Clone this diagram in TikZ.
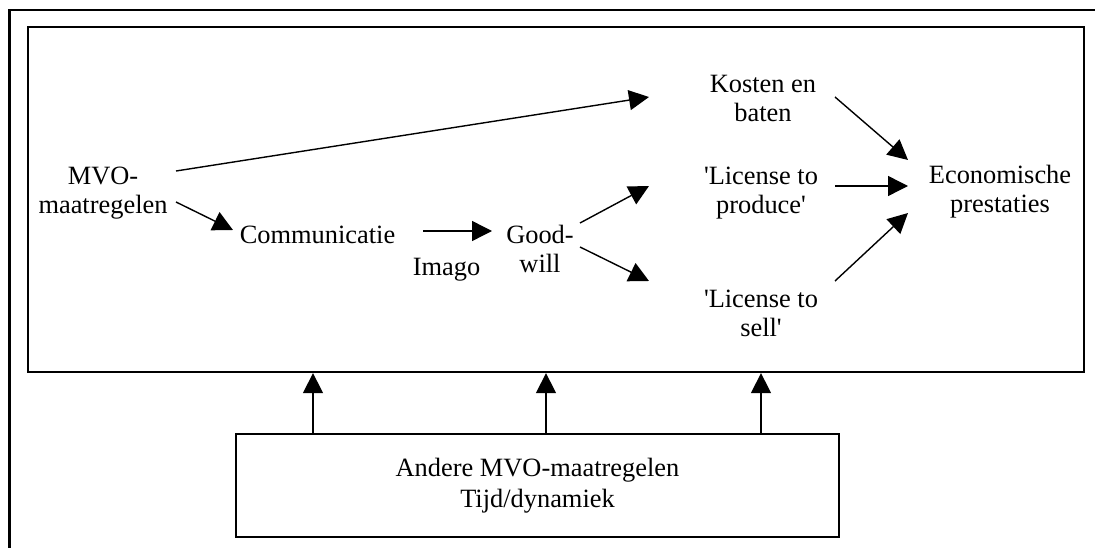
\documentclass[tikz,border=0pt]{standalone}
\usepackage{fontspec}
\setmainfont{Liberation Serif}
\newfontfamily\libserif{Liberation Serif}
\usetikzlibrary{arrows.meta}
\begin{document}
\begin{tikzpicture}[x=1pt,y=-1pt,
  lbl/.style={inner sep=0pt, align=center, font=\libserif\fontsize{26.4}{29}\selectfont},
  arr/.style={line width=1.4pt, -{Triangle[length=20pt,width=20pt]}},
  frame/.style={line width=2.3pt}]
\useasboundingbox (0,0) rectangle (1095,548);
% outer frame (top and left edges only)
\draw[frame] (1095,10) -- (9.5,10) -- (9.5,548);
% main box
\node[frame, draw, minimum width=1056pt, minimum height=345pt, inner sep=0pt] (main) at (556,199.5) {};
% lower box
\node[frame, draw, minimum width=603pt, minimum height=103pt, inner sep=0pt, align=center,
      font=\libserif\fontsize{26.4}{31}\selectfont] (low) at (537.5,485.5)
      {Andere MVO-maatregelen\strut\\Tijd/dynamiek\strut};
% labels
\node[lbl] (mvo)  at (103,193.7)  {MVO-\strut\\maatregelen\strut};
\node[lbl] (kost) at (763,101.2)  {Kosten en\strut\\baten\strut};
\node[lbl] (prod) at (761,193.7)  {'License to\strut\\produce'\strut};
\node[lbl] (sell) at (761,315.7)  {'License to\strut\\sell'\strut};
\node[lbl] (eco)  at (1000,192.7) {Economische\strut\\prestaties\strut};
\node[lbl] (comm) at (317.5,238.2) {Communicatie\strut};
\node[lbl] (imago) at (446.5,269.2) {Imago\strut};
\node[lbl] (good) at (540,252.7)  {Good-\strut\\will\strut};
% arrows
\draw[arr] ([shift={(73,-22.7)}]mvo.center) -- ([shift={(-114,-4.2)}]kost.center);
\draw[arr] ([shift={(73,8.3)}]mvo.center) -- ([shift={(-84.5,-8.2)}]comm.center);
\draw[arr] ([shift={(105.5,-7.2)}]comm.center) -- ([shift={(-48,-21.7)}]good.center);
\draw[arr] ([shift={(40,-29.7)}]good.center) -- ([shift={(-112,-7.7)}]prod.center);
\draw[arr] ([shift={(40,-5.7)}]good.center) -- ([shift={(-112,-34.7)}]sell.center);
\draw[arr] ([shift={(72,-4.2)}]kost.center) -- ([shift={(-92,-32.7)}]eco.center);
\draw[arr] ([shift={(74,-7.7)}]prod.center) -- ([shift={(-92,-6.7)}]eco.center);
\draw[arr] ([shift={(74,-34.7)}]sell.center) -- ([shift={(-92,20.3)}]eco.center);
% vertical arrows
\coordinate (v1) at ([xshift=-224.5pt]low.north);
\coordinate (v2) at ([xshift=8.5pt]low.north);
\coordinate (v3) at ([xshift=223.5pt]low.north);
\draw[arr] (v1) -- (v1 |- main.south);
\draw[arr] (v2) -- (v2 |- main.south);
\draw[arr] (v3) -- (v3 |- main.south);
\end{tikzpicture}
\end{document}
